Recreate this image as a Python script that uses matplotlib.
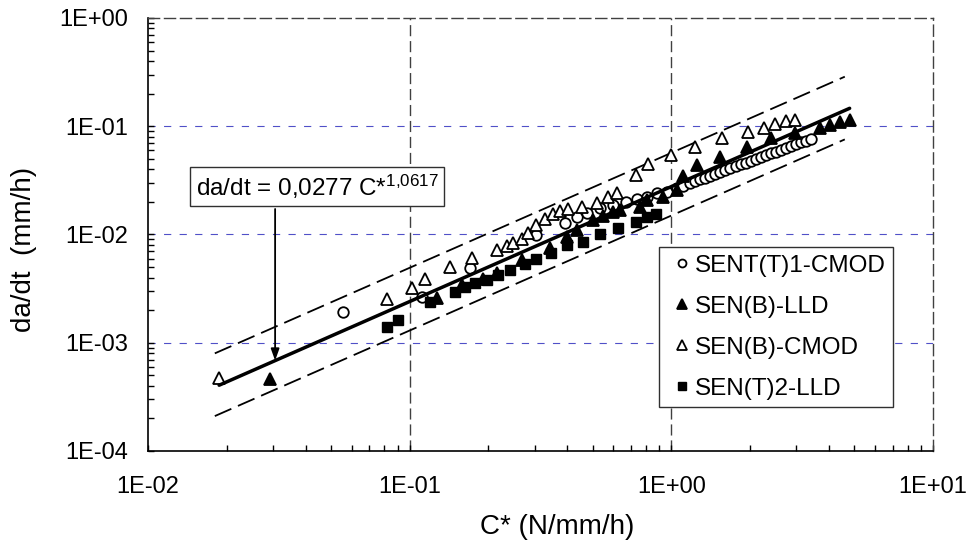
import math

import matplotlib
matplotlib.use('Agg')
import matplotlib.pyplot as plt
from matplotlib.ticker import LogLocator, FuncFormatter, NullFormatter

plt.rcParams['font.family'] = ['Liberation Sans', 'DejaVu Sans']
plt.rcParams['mathtext.fontset'] = 'custom'
plt.rcParams['mathtext.rm'] = 'Liberation Sans'
plt.rcParams['mathtext.it'] = 'Liberation Sans:italic'

# Power-law fit da/dt = A * C*^N and scatter band
FIT_A = 0.0277
FIT_N = 1.0617
FIT_X = [0.0187, 4.8]
BAND_X = [0.018, 4.6]
BAND_UP = 2.05
BAND_LO = 0.54
ARROW_X = 0.0306

# SENT(T)1-CMOD (open circles)
sent1_cmod_x = [0.0557, 0.111, 0.170, 0.305, 0.392, 0.435, 0.475, 0.534, 0.600, 0.672,
                0.740, 0.804, 0.880, 0.960, 1.047, 1.11, 1.18, 1.23, 1.29, 1.34,
                1.40, 1.47, 1.53, 1.60, 1.68, 1.77, 1.85, 1.93, 2.01, 2.10,
                2.20, 2.30, 2.40, 2.51, 2.62, 2.74, 2.86, 2.99, 3.13, 3.27, 3.41]
sent1_cmod_y = [1.94e-3, 2.66e-3, 4.9e-3, 9.9e-3, 0.0129, 0.0146, 0.0159, 0.0175, 0.0188, 0.0201,
                0.0212, 0.0224, 0.0240, 0.0248, 0.0267, 0.0281, 0.0299, 0.0311, 0.0324, 0.0336,
                0.0349, 0.0364, 0.0378, 0.0393, 0.0408, 0.0428, 0.0445, 0.0462, 0.0481, 0.0500,
                0.0520, 0.0540, 0.0562, 0.0584, 0.0607, 0.0632, 0.0657, 0.0683, 0.0711, 0.0738, 0.0767]

# SEN(B)-LLD (filled triangles)
senb_lld_x = [0.0293, 0.127, 0.158, 0.19, 0.215, 0.268, 0.344, 0.398, 0.435, 0.501,
              0.548, 0.598, 0.637, 0.759, 0.804, 0.93, 1.047, 1.11, 1.25, 1.53,
              1.94, 2.41, 2.96, 3.7, 4.04, 4.41, 4.82]
senb_lld_y = [4.6e-4, 2.6e-3, 3.4e-3, 3.9e-3, 4.4e-3, 5.8e-3, 7.45e-3, 9.55e-3, 0.011, 0.0136,
              0.0148, 0.0162, 0.0168, 0.0181, 0.0208, 0.0224, 0.0258, 0.0345, 0.0435, 0.0523,
              0.0638, 0.0774, 0.087, 0.0957, 0.103, 0.110, 0.114]

# SEN(B)-CMOD (open triangles)
senb_cmod_x = [0.0187, 0.082, 0.102, 0.114, 0.143, 0.173, 0.216, 0.235, 0.248, 0.268,
               0.283, 0.305, 0.329, 0.353, 0.375, 0.403, 0.454, 0.518, 0.574, 0.62,
               0.733, 0.817, 1.0, 1.23, 1.56, 1.97, 2.25, 2.49, 2.74, 2.96]
senb_cmod_y = [4.7e-4, 2.54e-3, 3.2e-3, 3.9e-3, 5.0e-3, 6.1e-3, 7.2e-3, 7.8e-3, 8.4e-3, 9.1e-3,
               0.0103, 0.0123, 0.0138, 0.0155, 0.0166, 0.0172, 0.0181, 0.0197, 0.0220, 0.0243,
               0.0355, 0.0448, 0.0542, 0.0647, 0.0774, 0.089, 0.0957, 0.105, 0.1125, 0.114]

# SEN(T)2-LLD (filled squares)
sent2_lld_x = [0.0817, 0.090, 0.12, 0.149, 0.163, 0.178, 0.197, 0.217, 0.242, 0.276,
               0.305, 0.348, 0.398, 0.458, 0.534, 0.627, 0.733, 0.804, 0.873]
sent2_lld_y = [1.41e-3, 1.62e-3, 2.4e-3, 2.97e-3, 3.3e-3, 3.54e-3, 3.8e-3, 4.2e-3, 4.7e-3, 5.3e-3,
               6.0e-3, 6.8e-3, 8.0e-3, 8.6e-3, 0.0101, 0.0114, 0.0131, 0.0146, 0.0155]


def fit(x):
    return FIT_A * x ** FIT_N


def sci_label(v, pos):
    exp = int(round(math.log10(v)))
    return f'1E{exp:+03d}'


fig = plt.figure(figsize=(9.68, 5.42), dpi=100)
ax = fig.add_axes([0.1529, 0.1679, 0.8110, 0.7989])
ax.set_xscale('log')
ax.set_yscale('log')
ax.set_xlim(1e-2, 1e1)
ax.set_ylim(1e-4, 1)

# grid: grey dashed verticals, blue dashed horizontals
for v in [0.1, 1.0]:
    ax.axvline(v, color='#404040', lw=1.0, ls=(0, (8, 3.5)), zorder=0)
for v in [1e-3, 1e-2, 1e-1]:
    ax.axhline(v, color='#5050c8', lw=0.8, ls=(0, (6.5, 7.5)), zorder=0)

for side in ['top', 'right']:
    ax.spines[side].set_linestyle((0, (8, 3.5)))
    ax.spines[side].set_color('#404040')
    ax.spines[side].set_linewidth(1.0)
for side in ['left', 'bottom']:
    ax.spines[side].set_linewidth(1.2)

ax.xaxis.set_major_locator(LogLocator(base=10, numticks=10))
ax.yaxis.set_major_locator(LogLocator(base=10, numticks=10))
ax.xaxis.set_minor_locator(LogLocator(base=10, subs=range(2, 10), numticks=20))
ax.yaxis.set_minor_locator(LogLocator(base=10, subs=range(2, 10), numticks=20))
ax.xaxis.set_major_formatter(FuncFormatter(sci_label))
ax.yaxis.set_major_formatter(FuncFormatter(sci_label))
ax.xaxis.set_minor_formatter(NullFormatter())
ax.yaxis.set_minor_formatter(NullFormatter())
ax.tick_params(which='both', direction='in', length=4, width=1.0, top=False, right=False,
               labelsize=17)
ax.tick_params(axis='x', pad=18)
ax.tick_params(axis='y', pad=14)

# scatter band and fit line
ax.plot(BAND_X, [fit(x) * BAND_UP for x in BAND_X], color='black', lw=1.3, dashes=(10, 4), zorder=2)
ax.plot(BAND_X, [fit(x) * BAND_LO for x in BAND_X], color='black', lw=1.3, dashes=(10, 4), zorder=2)

ax.plot(sent1_cmod_x, sent1_cmod_y, 'o', ms=7.6, mfc='white', mec='black', mew=1.3,
        label='SENT(T)1-CMOD', zorder=3)
ax.plot(senb_lld_x, senb_lld_y, '^', ms=9, mfc='black', mec='black', mew=1.3,
        label='SEN(B)-LLD', zorder=3)
ax.plot(senb_cmod_x, senb_cmod_y, '^', ms=9, mfc='white', mec='black', mew=1.3,
        label='SEN(B)-CMOD', zorder=3)
ax.plot(sent2_lld_x, sent2_lld_y, 's', ms=7.6, mfc='black', mec='black', mew=1.0,
        label='SEN(T)2-LLD', zorder=3)

ax.plot(FIT_X, [fit(x) for x in FIT_X], color='black', lw=2.5, zorder=4,
        solid_capstyle='round')

# equation box with arrow to fit line
ax.text(0.2153, 0.6109, r'da/dt = 0,0277 C*$^{1{,}0617}$', transform=ax.transAxes,
        ha='center', va='center', fontsize=17.5, zorder=6,
        bbox=dict(boxstyle='square,pad=0.22', facecolor='white', edgecolor='#303030', lw=1.0))
ax.annotate('', xy=(ARROW_X, fit(ARROW_X)), xycoords='data',
            xytext=(ARROW_X, 0.5589), textcoords=('data', 'axes fraction'),
            arrowprops=dict(arrowstyle='-|>,head_length=0.7,head_width=0.25',
                            color='black', lw=1.3, shrinkA=0, shrinkB=0), zorder=5)

leg = ax.legend(loc='lower left', bbox_to_anchor=(0.651, 0.1016), fontsize=17.5,
                frameon=True, fancybox=False, edgecolor='#303030', framealpha=1,
                borderpad=0.3, labelspacing=0.78, handlelength=1.29, handletextpad=-0.1,
                markerscale=0.75, borderaxespad=0)
leg.get_frame().set_linewidth(1.0)
leg.set_zorder(7)

ax.set_xlabel('C* (N/mm/h)', fontsize=20)
ax.xaxis.set_label_coords(0.5217, -0.1455)
ax.set_ylabel('da/dt  (mm/h)', fontsize=20)
ax.yaxis.set_label_coords(-0.1414, 0.465)

fig.savefig('out.png', dpi=100, facecolor='white')
